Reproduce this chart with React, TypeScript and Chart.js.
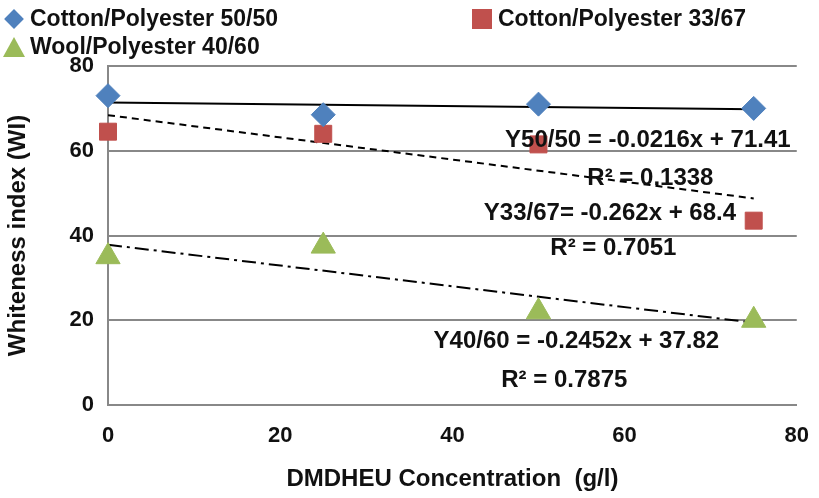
import React, { useEffect, useRef } from "react";
import { Chart, registerables } from "chart.js";
Chart.register(...registerables);

const xs = [0, 25, 50, 75];
const cp5050 = [73, 68.5, 71, 70];
const cp3367 = [64.5, 64, 61.5, 43.5];
const wp4060 = [35, 37.5, 22, 20];
const slopes = [-0.0216, -0.262, -0.2452];
const intercepts = [71.41, 68.4, 37.82];
const eqLabels = [
  ["Y50/50 = -0.0216x + 71.41", "R² = 0.1338"],
  ["Y33/67= -0.262x + 68.4", "R² = 0.7051"],
  ["Y40/60 = -0.2452x + 37.82", "R² = 0.7875"],
];
const eqPos = [[62.7, 62.5, 63, 53.5], [58.3, 45.3, 58.7, 37], [54.4, 14.9, 53, 5.9]];
const FONT = "'Liberation Sans', Arial, sans-serif";

export default function App() {
  const ref = useRef<HTMLCanvasElement>(null);
  useEffect(() => {
    document.body.style.margin = "0";
    const trend = (i: number) => [0, 75].map((x) => ({ x, y: intercepts[i] + slopes[i] * x }));
    const pts = (a: number[]) => xs.map((x, i) => ({ x, y: a[i] }));
    const textPlugin = {
      id: "eq",
      afterDatasetsDraw(c: any) {
        const ctx = c.ctx;
        ctx.save();
        ctx.font = `bold 24px ${FONT}`;
        ctx.fillStyle = "#111";
        ctx.textAlign = "center";
        ctx.textBaseline = "middle";
        eqLabels.forEach((l, i) => {
          const p = eqPos[i];
          ctx.fillText(l[0], c.scales.x.getPixelForValue(p[0]), c.scales.y.getPixelForValue(p[1]));
          ctx.fillText(l[1], c.scales.x.getPixelForValue(p[2]), c.scales.y.getPixelForValue(p[3]));
        });
        ctx.restore();
      },
    };
    const ch = new Chart(ref.current!, {
      type: "scatter",
      data: {
        datasets: [
          { data: trend(0), showLine: true, borderColor: "#000", borderWidth: 2, pointRadius: 0, order: 2 },
          { data: trend(1), showLine: true, borderColor: "#000", borderWidth: 2, borderDash: [7, 5], pointRadius: 0, order: 2 },
          { data: trend(2), showLine: true, borderColor: "#000", borderWidth: 2, borderDash: [14, 5, 3, 5], pointRadius: 0, order: 2 },
          { data: pts(cp5050), pointStyle: "rectRot", pointRadius: 12, backgroundColor: "#4F81BD", borderColor: "#4F81BD", order: 1, clip: false },
          { data: pts(cp3367), pointStyle: "rect", pointRadius: 12, backgroundColor: "#C0504D", borderColor: "#C0504D", order: 1, clip: false },
          { data: pts(wp4060), pointStyle: "triangle", pointRadius: 14, backgroundColor: "#9BBB59", borderColor: "#9BBB59", order: 1, clip: false },
        ] as any,
      },
      options: {
        animation: false,
        responsive: false,
        layout: { padding: { top: 66, right: 22, left: 0, bottom: 0 } },
        plugins: { legend: { display: false }, tooltip: { enabled: false } },
        scales: {
          x: {
            min: 0, max: 80,
            afterFit: (s: any) => { s.height = 93; },
            ticks: { stepSize: 20, font: { size: 22, weight: "bold", family: FONT }, color: "#111", padding: 10 },
            grid: { display: false },
            border: { color: "#888", width: 2 },
            title: { display: true, text: "DMDHEU Concentration  (g/l)", font: { size: 24, weight: "bold", family: FONT }, color: "#111", padding: { top: 4 } },
          },
          y: {
            min: 0, max: 80,
            afterFit: (s: any) => { s.width = 108; },
            ticks: { stepSize: 20, font: { size: 22, weight: "bold", family: FONT }, color: "#111", padding: 14 },
            grid: { color: "#888", lineWidth: 2, drawTicks: false },
            border: { color: "#888", width: 2 },
            title: { display: true, text: "Whiteness index (WI)", font: { size: 24, weight: "bold", family: FONT }, color: "#111" },
          },
        },
      },
      plugins: [textPlugin],
    });
    return () => ch.destroy();
  }, []);
  const item = (left: number, top: number, shape: React.ReactNode, text: string) => (
    <div style={{ position: "absolute", left, top, display: "flex", alignItems: "center", font: `bold 23px ${FONT}`, color: "#111" }}>
      <div style={{ width: 24, height: 24, display: "flex", alignItems: "center", justifyContent: "center", marginRight: 4 }}>{shape}</div>
      {text}
    </div>
  );
  return (
    <div style={{ position: "relative", width: 819, height: 498, background: "#fff" }}>
      <canvas ref={ref} width={819} height={498} />
      {item(2, 5, <div style={{ width: 14, height: 14, background: "#4F81BD", transform: "rotate(45deg)" }} />, "Cotton/Polyester 50/50")}
      {item(470, 5, <div style={{ width: 20, height: 20, background: "#C0504D" }} />, "Cotton/Polyester 33/67")}
      {item(2, 33, <div style={{ width: 0, height: 0, borderLeft: "11px solid transparent", borderRight: "11px solid transparent", borderBottom: "20px solid #9BBB59" }} />, "Wool/Polyester 40/60")}
    </div>
  );
}
